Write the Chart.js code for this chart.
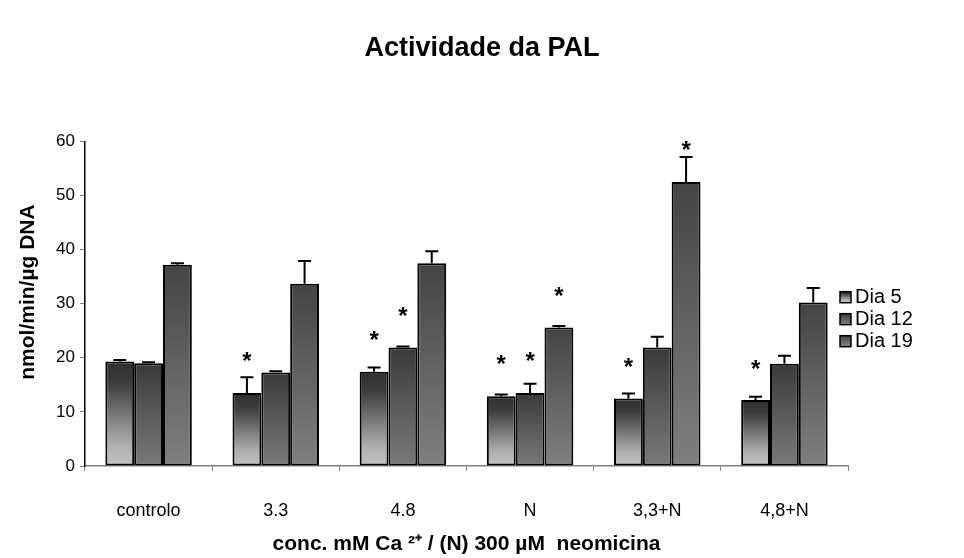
<!DOCTYPE html>
<html>
<head>
<meta charset="utf-8">
<title>Actividade da PAL</title>
<script src="https://cdn.jsdelivr.net/npm/chart.js@4.4.1/dist/chart.umd.min.js"></script>
<style>
    html, body { margin: 0; padding: 0; background: #fff; }
    #wrap { width: 964px; height: 558px; }
</style>
</head>
<body>
<div id="wrap"><canvas id="palChart"></canvas></div>
<script>
// Data
const categories = ['controlo', '3.3', '4.8', 'N', '3,3+N', '4,8+N'];
const seriesNames = ['Dia 5', 'Dia 12', 'Dia 19'];

const dia5 = [19.3, 13.5, 17.4, 12.9, 12.5, 12.2];
const dia12 = [19.0, 17.3, 21.9, 13.5, 21.9, 18.9];
const dia19 = [37.2, 33.7, 37.5, 25.6, 52.5, 30.2];

// upper error (SE) for each bar
const err5 = [0.3, 2.9, 0.8, 0.3, 0.9, 0.6];
const err12 = [0.2, 0.2, 0.2, 1.7, 2.0, 1.5];
const err19 = [0.3, 4.2, 2.2, 0.3, 4.6, 2.7];

// height (axis units) of the significance asterisks, null = none
const star5 = [null, 20.6, 24.4, 20.0, 19.5, 19.1];
const star12 = [null, null, 28.8, 20.6, null, null];
const star19 = [null, null, null, 32.6, 59.6, null];

const yTicks = [0, 10, 20, 30, 40, 50, 60];

const FONT = 'Arial, "Liberation Sans", sans-serif';
Chart.defaults.font.family = FONT;
Chart.defaults.color = '#000';

// gradient stops per series (top -> bottom of each bar)
const shades = [
    [[0, '#2e2e2e'], [0.2, '#3c3c3c'], [0.8, '#b0b0b0'], [1, '#c2c2c2']],
    [[0, '#3a3a3a'], [1, '#7a7a7a']],
    [[0, '#444444'], [1, '#808080']]
];

function shadeBar(stops) {
    return ctx => {
        const chart = ctx.chart;
        const y = chart.scales.y;
        if (ctx.type !== 'data' || !y || !chart.chartArea) return stops[stops.length - 1][1];
        const top = y.getPixelForValue(ctx.raw);
        const bottom = y.getPixelForValue(0);
        const g = chart.ctx.createLinearGradient(0, top, 0, bottom);
        stops.forEach(([at, col]) => g.addColorStop(at, col));
        return g;
    };
}

const errors = [err5, err12, err19];
const stars = [star5, star12, star19];

// error bars + asterisks
const markPlugin = {
    id: 'marks',
    afterDatasetsDraw(chart) {
        const { ctx } = chart;
        const y = chart.scales.y;
        ctx.save();
        ctx.strokeStyle = '#000';
        ctx.lineWidth = 2;
        chart.data.datasets.forEach((ds, i) => {
            const meta = chart.getDatasetMeta(i);
            meta.data.forEach((bar, j) => {
                const e = errors[i][j];
                if (e) {
                    const yTop = y.getPixelForValue(ds.data[j] + e);
                    ctx.beginPath();
                    ctx.moveTo(bar.x, bar.y);
                    ctx.lineTo(bar.x, yTop);
                    ctx.moveTo(bar.x - 6.5, yTop);
                    ctx.lineTo(bar.x + 6.5, yTop);
                    ctx.stroke();
                }
                const s = stars[i][j];
                if (s !== null) {
                    ctx.fillStyle = '#000';
                    ctx.font = 'bold 24px ' + FONT;
                    ctx.textAlign = 'center';
                    ctx.textBaseline = 'alphabetic';
                    ctx.fillText('*', bar.x, y.getPixelForValue(s) + 14);
                }
            });
        });
        ctx.restore();
    }
};

// legend on the right, boxes with the same shading
const sideLegend = {
    id: 'sideLegend',
    afterDraw(chart) {
        const { ctx, chartArea } = chart;
        const mid = (chartArea.top + chartArea.bottom) / 2 + 15;
        const bx = chartArea.right - 8;
        ctx.save();
        ctx.font = '20px ' + FONT;
        ctx.textBaseline = 'middle';
        ctx.textAlign = 'left';
        chart.data.datasets.forEach((ds, i) => {
            const cy = mid + (i - 1) * 22;
            const g = ctx.createLinearGradient(0, cy - 5, 0, cy + 5);
            shades[i].forEach(([at, col]) => g.addColorStop(at, col));
            ctx.fillStyle = g;
            ctx.fillRect(bx, cy - 5, 11, 11);
            ctx.strokeStyle = '#000';
            ctx.lineWidth = 1.5;
            ctx.strokeRect(bx, cy - 5, 11, 11);
            ctx.fillStyle = '#000';
            ctx.fillText(ds.label, bx + 15, cy + 1);
        });
        ctx.restore();
    }
};

const allSeries = [dia5, dia12, dia19];

new Chart(document.getElementById('palChart'), {
    type: 'bar',
    data: {
        labels: categories,
        datasets: allSeries.map((vals, i) => ({
            label: seriesNames[i],
            data: vals,
            backgroundColor: shadeBar(shades[i]),
            borderColor: '#000',
            borderWidth: 2,
            borderSkipped: false,
            categoryPercentage: 0.68,
            barPercentage: 1.0
        }))
    },
    options: {
        responsive: true,
        maintainAspectRatio: false,
        animation: false,
        layout: { padding: { left: 16, right: 16, top: 0, bottom: 0 } },
        plugins: {
            legend: { display: false },
            tooltip: { enabled: false },
            title: {
                display: true,
                text: 'Actividade da PAL',
                font: { size: 27, weight: 'bold' },
                color: '#000',
                padding: { top: 32, bottom: 77 }
            }
        },
        scales: {
            x: {
                grid: { offset: true, drawOnChartArea: false, tickLength: 5, color: '#808080' },
                border: { color: '#808080', width: 1.5 },
                ticks: { font: { size: 18 }, padding: 29, color: '#000' },
                title: {
                    display: true,
                    text: 'conc. mM Ca ²⁺ / (N) 300 µM  neomicina',
                    font: { size: 21, weight: 'bold' },
                    color: '#000',
                    padding: { top: 4, bottom: 1 }
                },
                afterFit: scale => { scale.height = 92; }
            },
            y: {
                min: 0,
                max: 60,
                afterBuildTicks: axis => { axis.ticks = yTicks.map(v => ({ value: v })); },
                grid: { drawOnChartArea: false, tickLength: 5, color: '#808080' },
                border: { color: '#000', width: 1.5 },
                ticks: { font: { size: 17 }, padding: 5, color: '#000' },
                title: {
                    display: true,
                    text: '    nmol/min/µg DNA',
                    font: { size: 21, weight: 'bold' },
                    color: '#000',
                    padding: { top: 0, bottom: 16 }
                },
                afterFit: scale => { scale.width = 69; }
            },
            // empty right-hand strip that holds the legend
            legendSpace: {
                type: 'linear',
                position: 'right',
                display: true,
                grid: { display: false },
                border: { display: false },
                ticks: { display: false },
                afterFit: scale => { scale.width = 100; }
            }
        }
    },
    plugins: [markPlugin, sideLegend]
});
</script>
</body>
</html>
